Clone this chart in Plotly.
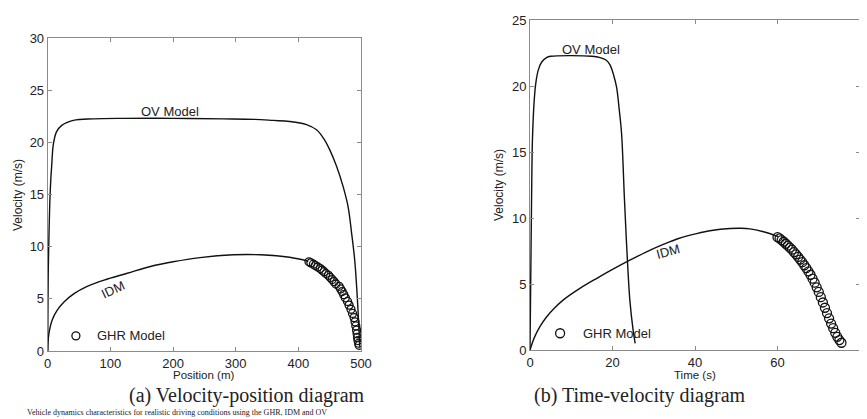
import plotly.graph_objects as go

# ---------------- data: (a) velocity vs position ----------------
ov_pos = [0, 0.5, 1, 2, 3, 3.7, 5, 6.3, 9, 14, 22, 41, 73, 120, 200, 280, 330, 360,
          386, 413, 429, 440, 450, 461, 471.5, 479.5, 485, 490, 493, 495.5, 497, 498]
ov_vel_a = [0, 5, 8, 11, 13.5, 14.8, 16.5, 17.7, 19.8, 21.0, 21.6, 22.1, 22.25, 22.3, 22.3, 22.25, 22.2, 22.1,
            22.0, 21.7, 21.2, 20.4, 19.3, 17.7, 15.75, 13.8, 11.3, 8.7, 6.2, 3.6, 1.7, 0.4]

idm_pos = [0, 0.5, 2, 7.3, 15, 26, 42, 63, 90, 127, 164, 200, 243, 296, 340, 386, 416]
idm_vel_a = [0, 0.8, 1.7, 3.0, 3.9, 4.7, 5.5, 6.2, 6.8, 7.45, 8.1, 8.55, 8.95, 9.22, 9.22, 8.98, 8.6]

ghr_pos = [417, 420, 424, 427, 431, 435, 438, 441, 444, 448, 451, 454, 457, 460, 465, 467.5,
           470, 472.5, 475, 478.5, 481, 484, 486.5, 489, 490.5, 491.8, 493, 493.8, 494.5, 495.2, 496.3, 497]

# ---------------- data: (b) velocity vs time ----------------
ov_time = [0, 0.2, 0.4, 0.6, 1.0, 1.4, 2.0, 2.8, 4.0, 5.0, 10, 15, 17, 18.5, 19.4, 20.3, 21.0,
           21.6, 22.2, 22.9, 23.5, 24.2, 25.0, 25.5]
ov_vel_b = [0, 6, 12, 16, 18.8, 20.2, 21.2, 21.8, 22.15, 22.25, 22.3, 22.25, 22.15, 21.95, 21.6, 20.8, 19.9,
            18.3, 16.4, 11.4, 7.5, 3.8, 1.5, 0.5]

idm_time = [0, 1, 2.4, 4, 6, 8.1, 12, 16.2, 20, 24.2, 28, 32.3, 36, 40.4, 44, 48.5, 51, 53.3, 56.6, 60.2]
idm_vel_b = [0, 0.9, 1.77, 2.5, 3.2, 3.8, 4.65, 5.43, 6.1, 6.8, 7.4, 8.0, 8.45, 8.82, 9.05, 9.2, 9.22, 9.18, 8.96, 8.6]

ghr_time = [60, 60.5, 61, 61.5, 62, 62.5, 63, 63.5, 64, 64.5, 65, 65.5, 66, 66.5, 67, 67.5,
            68, 68.5, 69, 69.5, 70, 70.5, 71, 71.5, 72, 72.5, 73, 73.5, 74, 74.5, 75, 75.5]
ghr_vel = [8.55, 8.45, 8.32, 8.2, 8.05, 7.9, 7.75, 7.6, 7.42, 7.25, 7.05, 6.85, 6.65, 6.42, 6.2, 5.95,
           5.7, 5.4, 5.1, 4.75, 4.4, 4.0, 3.6, 3.2, 2.8, 2.4, 2.0, 1.65, 1.3, 1.0, 0.75, 0.55]

x_ticks_a = [0, 100, 200, 300, 400, 500]
y_ticks_a = [0, 5, 10, 15, 20, 25, 30]
x_ticks_b = [0, 20, 40, 60, 80]
y_ticks_b = [0, 5, 10, 15, 20, 25]

# page body has an 8px margin: the figure starts at (8, 8) in the window
OFF = 8
W, H = 867 - OFF, 419 - OFF
SANS = "Liberation Sans, Arial, sans-serif"
SERIF = "Liberation Serif, Times New Roman, serif"
LINE = dict(color="#111111", width=1.4)
CIRC = dict(symbol="circle-open", size=8, color="#111111", line=dict(width=1.3))

fig = go.Figure()
# (a)
fig.add_trace(go.Scatter(x=ov_pos, y=ov_vel_a, mode="lines", line=LINE, xaxis="x", yaxis="y", line_shape="spline"))
fig.add_trace(go.Scatter(x=idm_pos, y=idm_vel_a, mode="lines", line=LINE, xaxis="x", yaxis="y", line_shape="spline"))
fig.add_trace(go.Scatter(x=ghr_pos, y=ghr_vel, mode="markers", marker=CIRC, xaxis="x", yaxis="y"))
fig.add_trace(go.Scatter(x=[45], y=[1.45], mode="markers", marker=CIRC, xaxis="x", yaxis="y"))
# (b)
fig.add_trace(go.Scatter(x=ov_time, y=ov_vel_b, mode="lines", line=LINE, xaxis="x2", yaxis="y2", line_shape="spline"))
fig.add_trace(go.Scatter(x=idm_time, y=idm_vel_b, mode="lines", line=LINE, xaxis="x2", yaxis="y2", line_shape="spline"))
fig.add_trace(go.Scatter(x=ghr_time, y=ghr_vel, mode="markers", marker=dict(CIRC, size=9), xaxis="x2", yaxis="y2"))
fig.add_trace(go.Scatter(x=[7.3], y=[1.27], mode="markers", marker=dict(CIRC, size=9), xaxis="x2", yaxis="y2"))

def px_x(p):
    return (p - OFF) / W

def px_y(p):
    return (H - (p - OFF)) / H

axis_common = dict(showgrid=False, zeroline=False, showline=True, linecolor="#8a8a8a", linewidth=1,
                   mirror="ticks", ticks="inside", ticklen=4, tickcolor="#8a8a8a", automargin=False,
                   tickfont=dict(family=SANS, size=13, color="#222222"))

fig.update_layout(
    template="none",
    width=W, height=H, margin=dict(l=0, r=0, t=0, b=0, pad=0),
    paper_bgcolor="white", plot_bgcolor="white", showlegend=False,
    xaxis=dict(axis_common, domain=[px_x(47.7), px_x(361)], range=[0, 500], tickvals=x_ticks_a, anchor="y"),
    yaxis=dict(axis_common, domain=[px_y(351), px_y(38)], range=[0, 30], tickvals=y_ticks_a, anchor="x"),
    xaxis2=dict(axis_common, domain=[px_x(530), px_x(860)], range=[0, 80], tickvals=x_ticks_b, anchor="y2"),
    yaxis2=dict(axis_common, domain=[px_y(350), px_y(20)], range=[0, 25], tickvals=y_ticks_b, anchor="x2"),
)

ann = []
def txt(text, x, y, xref="x", yref="y", size=13, angle=0, xanchor="center", yanchor="middle", family=SANS):
    ann.append(dict(text=text, x=x, y=y, xref=xref, yref=yref, showarrow=False, textangle=angle,
                    xanchor=xanchor, yanchor=yanchor, font=dict(family=family, size=size, color="#222222")))

# in-plot labels (a)
txt("OV Model", 195, 23.0)
txt("IDM", 105, 5.9, angle=-25)
txt("GHR Model", 76, 1.45, xanchor="left")
# in-plot labels (b)
txt("OV Model", 14.8, 22.8, xref="x2", yref="y2")
txt("IDM", 33.5, 7.5, xref="x2", yref="y2", angle=-15)
txt("GHR Model", 12.4, 1.27, xref="x2", yref="y2", xanchor="left")
# axis titles
txt("Velocity (m/s)", px_x(18), px_y(195), xref="paper", yref="paper", size=12, angle=-90)
txt("Position (m)", px_x(204), px_y(375), xref="paper", yref="paper", size=11.5)
txt("Velocity (m/s)", px_x(499), px_y(185), xref="paper", yref="paper", size=12, angle=-90)
txt("Time (s)", px_x(695), px_y(375), xref="paper", yref="paper", size=11.5)
# captions
txt("(a) Velocity-position diagram", px_x(247), px_y(395.5), xref="paper", yref="paper", size=20, family=SERIF)
txt("(b) Time-velocity diagram", px_x(640), px_y(395.5), xref="paper", yref="paper", size=20, family=SERIF)
txt("Vehicle dynamics characteristics for realistic driving conditions using the GHR, IDM and OV",
    px_x(25), 0, xref="paper", yref="paper", size=8, family=SERIF, xanchor="left", yanchor="bottom")

fig.update_layout(annotations=ann)
fig.write_html("out.html")
